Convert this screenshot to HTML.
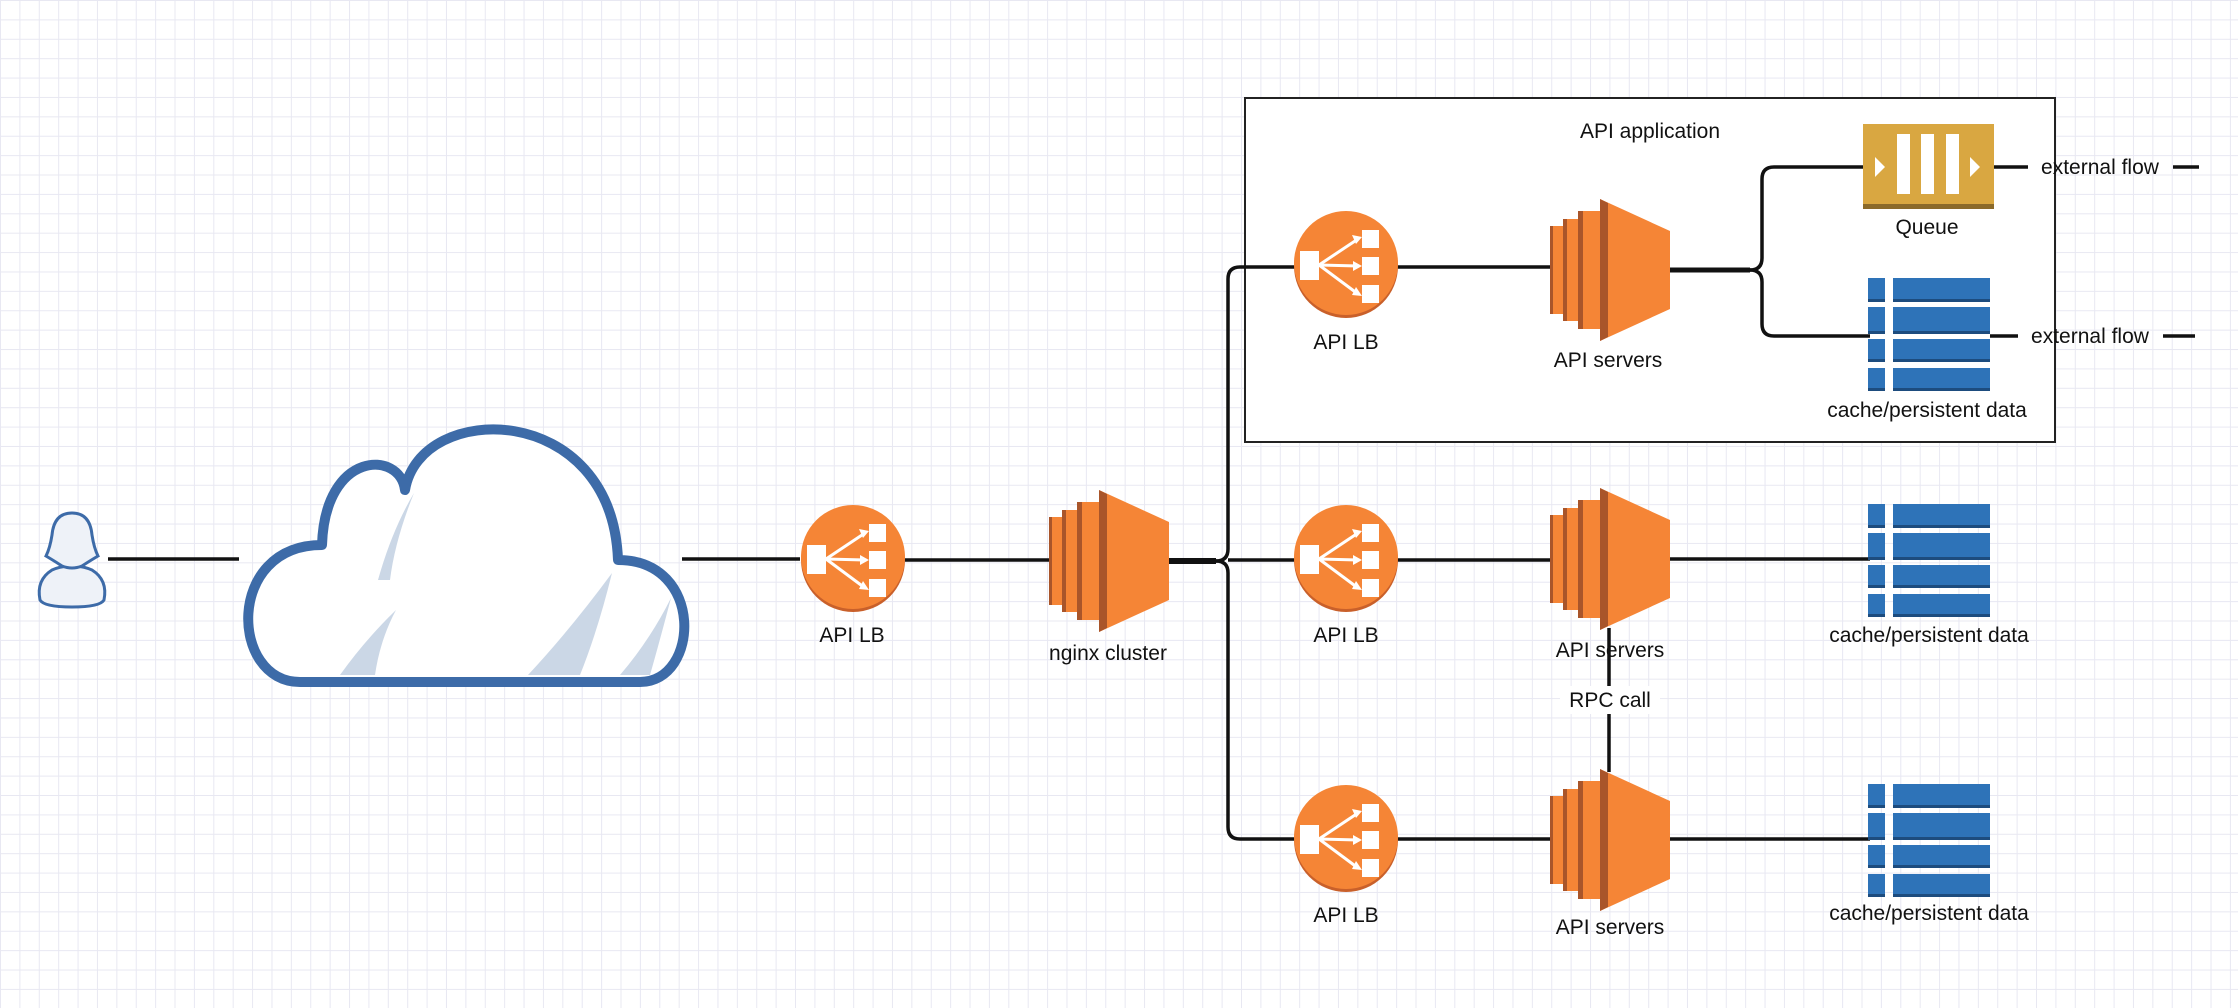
<!DOCTYPE html>
<html><head><meta charset="utf-8">
<style>
html,body{margin:0;padding:0;}
body{width:2238px;height:1008px;overflow:hidden;background:#fff;
background-image:linear-gradient(to right,#e8e8f2 1px,transparent 1px),linear-gradient(to bottom,#e8e8f2 1px,transparent 1px);
background-size:19.4px 19.4px;}
svg{position:absolute;left:0;top:0;}
text{font-family:"Liberation Sans",Arial,sans-serif;font-size:21px;fill:#111;text-anchor:middle;}
</style></head><body>
<svg width="2238" height="1008" viewBox="0 0 2238 1008">
<defs>
 <g id="lb">
  <circle cx="0" cy="3" r="52" fill="#C9602A"/>
  <circle cx="0" cy="0" r="52" fill="#F58536"/>
  <rect x="-46" y="-12" width="19" height="29" fill="#fff"/>
  <rect x="16" y="-33" width="17" height="18" fill="#fff"/>
  <rect x="16" y="-6" width="17" height="18" fill="#fff"/>
  <rect x="16" y="22" width="17" height="18" fill="#fff"/>
  <g stroke="#fff" stroke-width="3" fill="none">
   <line x1="-27" y1="2" x2="12" y2="-24"/>
   <line x1="-27" y1="2" x2="12" y2="3"/>
   <line x1="-27" y1="2" x2="12" y2="31"/>
  </g>
  <polygon points="16,-26 6,-28 10,-19" fill="#fff"/>
  <polygon points="16,3 7,-2 7,8" fill="#fff"/>
  <polygon points="16,33 10,24 6,32" fill="#fff"/>
 </g>
 <g id="srv">
  <rect x="0" y="27" width="13" height="88" fill="#F58536"/>
  <rect x="0" y="27" width="3" height="88" fill="#A9552A"/>
  <rect x="13" y="20" width="15" height="102" fill="#F58536"/>
  <rect x="13" y="20" width="4" height="102" fill="#A9552A"/>
  <rect x="28" y="12" width="22" height="118" fill="#F58536"/>
  <rect x="28" y="12" width="5" height="118" fill="#A9552A"/>
  <polygon points="50,0 120,32 120,110 50,142" fill="#F58536"/>
  <polygon points="50,0 58,4 58,138 50,142" fill="#A9552A"/>
 </g>
 <g id="db">
  <g fill="#2E73B8">
   <rect x="0" y="0" width="17" height="24"/><rect x="25" y="0" width="97" height="24"/>
   <rect x="0" y="29" width="17" height="27"/><rect x="25" y="29" width="97" height="27"/>
   <rect x="0" y="61" width="17" height="23"/><rect x="25" y="61" width="97" height="23"/>
   <rect x="0" y="90" width="17" height="23"/><rect x="25" y="90" width="97" height="23"/>
  </g>
  <g fill="#1D4C7E">
   <rect x="0" y="21" width="17" height="3"/><rect x="25" y="21" width="97" height="3"/>
   <rect x="0" y="53" width="17" height="3"/><rect x="25" y="53" width="97" height="3"/>
   <rect x="0" y="81" width="17" height="3"/><rect x="25" y="81" width="97" height="3"/>
   <rect x="0" y="110" width="17" height="3"/><rect x="25" y="110" width="97" height="3"/>
  </g>
 </g>
</defs>

<!-- API application box -->
<rect x="1245" y="98" width="810" height="344" fill="#fff" stroke="#222" stroke-width="2"/>
<text x="1650" y="138">API application</text>

<!-- connectors -->
<g stroke="#111" stroke-width="3.5" fill="none">
 <line x1="108" y1="559" x2="239" y2="559"/>
 <line x1="682" y1="559" x2="800" y2="559"/>
 <line x1="905" y1="560" x2="1050" y2="560"/>
 <line x1="1168" y1="561" x2="1216" y2="561" stroke-width="6"/>
 <path d="M1216,561 Q1228,561 1228,549 L1228,279 Q1228,267 1240,267 L1300,267"/>
 <path d="M1216,561 Q1228,561 1228,573 L1228,827 Q1228,839 1240,839 L1300,839"/>
 <line x1="1228" y1="560" x2="1300" y2="560"/>
 <line x1="1395" y1="267" x2="1552" y2="267"/>
 <line x1="1395" y1="560" x2="1552" y2="560"/>
 <line x1="1395" y1="839" x2="1552" y2="839"/>
 <line x1="1668" y1="270" x2="1750" y2="270" stroke-width="5"/>
 <path d="M1750,270 Q1762,270 1762,258 L1762,179 Q1762,167 1774,167 L1865,167"/>
 <path d="M1750,270 Q1762,270 1762,282 L1762,324 Q1762,336 1774,336 L1870,336"/>
 <line x1="1668" y1="559" x2="1870" y2="559"/>
 <line x1="1668" y1="839" x2="1870" y2="839"/>
 <line x1="1609" y1="628" x2="1609" y2="772"/>
 <line x1="1993" y1="167" x2="2028" y2="167"/>
 <line x1="2173" y1="167" x2="2199" y2="167"/>
 <line x1="1990" y1="336" x2="2018" y2="336"/>
 <line x1="2163" y1="336" x2="2195" y2="336"/>
</g>

<!-- person -->
<g fill="#EEF2F8" stroke="#3D6BA8" stroke-width="3">
 <path d="M40,600 Q36,580 52,570 Q64,565 72,567 Q80,565 92,570 Q108,580 104,600 Q100,607 72,607 Q44,607 40,600 Z"/>
 <path d="M72,513 Q54,513 52,535 Q50,548 46,556 Q56,562 62,566 Q72,570 82,566 Q88,562 98,556 Q94,548 92,535 Q90,513 72,513 Z"/>
</g>

<!-- cloud -->
<path d="M300,682 L640,682 C700,682 705,560 618,560 C612,400 420,400 405,490 C400,450 325,450 322,545 C225,545 230,682 300,682 Z" fill="#fff" stroke="#3D6BA8" stroke-width="10" stroke-linejoin="round"/>
<g fill="#CBD7E6">
 <path d="M414,493 Q395,540 390,580 L378,580 Q392,530 414,493 Z"/>
 <path d="M396,610 Q380,640 375,675 L340,675 Q365,640 396,610 Z"/>
 <path d="M612,573 Q598,630 580,675 L528,675 Q570,630 612,573 Z"/>
 <path d="M671,598 Q660,640 650,675 L620,675 Q650,640 671,598 Z"/>
</g>

<!-- LBs -->
<use href="#lb" x="853" y="557"/>
<use href="#lb" x="1346" y="263"/>
<use href="#lb" x="1346" y="557"/>
<use href="#lb" x="1346" y="837"/>

<!-- servers -->
<use href="#srv" x="1049" y="490"/>
<use href="#srv" x="1550" y="199"/>
<use href="#srv" x="1550" y="488"/>
<use href="#srv" x="1550" y="769"/>

<!-- dbs -->
<use href="#db" x="1868" y="278"/>
<use href="#db" x="1868" y="504"/>
<use href="#db" x="1868" y="784"/>

<!-- queue -->
<rect x="1863" y="124" width="131" height="85" fill="#D9A741"/>
<rect x="1863" y="204" width="131" height="5" fill="#8B6A2A"/>
<rect x="1897" y="134" width="13" height="60" fill="#fff"/>
<rect x="1921" y="134" width="13" height="60" fill="#fff"/>
<rect x="1946" y="134" width="13" height="60" fill="#fff"/>
<polygon points="1875,157 1885,167 1875,177" fill="#fff"/>
<polygon points="1970,157 1980,167 1970,177" fill="#fff"/>

<!-- labels -->
<text x="852" y="642">API LB</text>
<text x="1108" y="660">nginx cluster</text>
<text x="1346" y="349">API LB</text>
<text x="1608" y="367">API servers</text>
<text x="1927" y="234">Queue</text>
<text x="1927" y="417">cache/persistent data</text>
<text x="2100" y="174">external flow</text>
<text x="2090" y="343">external flow</text>
<text x="1346" y="642">API LB</text>
<text x="1610" y="657">API servers</text>
<text x="1929" y="642">cache/persistent data</text>
<rect x="1560" y="686" width="100" height="28" fill="#fff"/>
<text x="1610" y="707">RPC call</text>
<text x="1346" y="922">API LB</text>
<text x="1610" y="934">API servers</text>
<text x="1929" y="920">cache/persistent data</text>
</svg>
</body></html>
